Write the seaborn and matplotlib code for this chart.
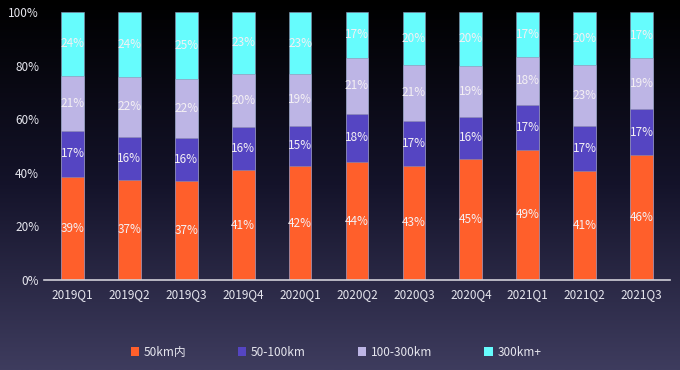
import numpy as np
import pandas as pd
import matplotlib
matplotlib.use('Agg')
import matplotlib.pyplot as plt
from matplotlib.colors import LinearSegmentedColormap
from matplotlib.patches import Patch
import seaborn as sns

quarters = ['2019Q1', '2019Q2', '2019Q3', '2019Q4', '2020Q1', '2020Q2',
            '2020Q3', '2020Q4', '2021Q1', '2021Q2', '2021Q3']
series_names = ['50km内', '50-100km', '100-300km', '300km+']
within_50 = [39, 37, 37, 41, 42, 44, 43, 45, 49, 41, 46]
km_50_100 = [17, 16, 16, 16, 15, 18, 17, 16, 17, 17, 17]
km_100_300 = [21, 22, 22, 20, 19, 21, 21, 19, 18, 23, 19]
km_300_plus = [24, 24, 25, 23, 23, 17, 20, 20, 17, 20, 17]
colors = ['#FF5F2B', '#5545C2', '#BDB5E5', '#66FCFD']

sns.set_theme(style='white')
plt.rcParams['font.family'] = ['Noto Sans CJK SC', 'DejaVu Sans']

raw = np.array([within_50, km_50_100, km_100_300, km_300_plus], dtype=float)
share = raw / raw.sum(axis=0) * 100
cum = share.cumsum(axis=0)

fig = plt.figure(figsize=(6.8, 3.7), dpi=100)

# background gradient
bg = fig.add_axes([0, 0, 1, 1], zorder=0)
grad = np.linspace(0, 1, 256).reshape(-1, 1)
cmap = LinearSegmentedColormap.from_list('bg', ['#000000', '#14132a', '#3e3c5e'])
bg.imshow(grad, aspect='auto', cmap=cmap, extent=[0, 1, 0, 1], origin='upper')
bg.axis('off')

ax = fig.add_axes([44 / 680, 90 / 370, 626 / 680, 268 / 370], zorder=1)
ax.patch.set_alpha(0)

# draw cumulative layers from top down so lower segments sit on top
for i in range(3, -1, -1):
    df = pd.DataFrame({'quarter': quarters, 'value': cum[i]})
    sns.barplot(data=df, x='quarter', y='value', color=colors[i], width=0.4,
                saturation=1, ax=ax, edgecolor='#8f8fb0', linewidth=0.4)

for i in range(4):
    for j in range(len(quarters)):
        y = cum[i][j] - share[i][j] / 2
        ax.text(j, y, f'{int(raw[i][j])}%', ha='center', va='center',
                color='#f4f0f4', fontsize=8.5)

ax.set_xlim(-0.5, len(quarters) - 0.5)
ax.set_ylim(0, 100)
ax.set_yticks([0, 20, 40, 60, 80, 100])
ax.set_yticklabels([f'{t}%' for t in [0, 20, 40, 60, 80, 100]])
ax.set_xlabel('')
ax.set_ylabel('')
ax.tick_params(axis='both', colors='#e6e6ee', labelsize=8.5, length=0)
ax.tick_params(axis='x', pad=6)
for s in ['top', 'right', 'left']:
    ax.spines[s].set_visible(False)
ax.spines['bottom'].set_color('#d0d0d8')
ax.spines['bottom'].set_linewidth(1.2)

handles = [Patch(facecolor=c, edgecolor='none', label=n) for c, n in zip(colors, series_names)]
fig.legend(handles=handles, loc='center', bbox_to_anchor=(0.494, 0.048), ncol=4,
           frameon=False, fontsize=8.5, labelcolor='#e6e6ee', handlelength=0.7,
           handleheight=0.7, handletextpad=0.4, columnspacing=4.4)

fig.savefig('out.png', dpi=100)
